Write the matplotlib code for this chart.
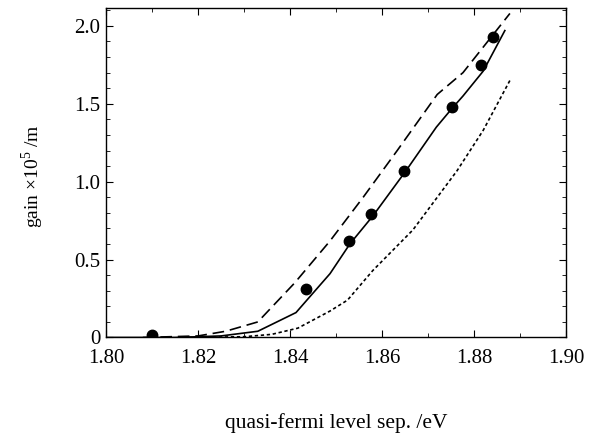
import matplotlib
matplotlib.use("Agg")
import matplotlib.pyplot as plt
from matplotlib.ticker import MultipleLocator, FixedFormatter, FixedLocator

plt.rcParams['font.family'] = ['Liberation Serif', 'DejaVu Serif']
plt.rcParams['mathtext.fontset'] = 'custom'
plt.rcParams['mathtext.rm'] = 'Liberation Serif'

# measured gain (dots)
meas_x = [1.8099, 1.8434, 1.8528, 1.8576, 1.8648, 1.8752, 1.8815, 1.8842]
meas_y = [0.013, 0.31, 0.62, 0.79, 1.07, 1.48, 1.75, 1.93]

# calculated curve, solid
solid_x = [1.800, 1.815, 1.825, 1.833, 1.8413, 1.8487, 1.853, 1.858, 1.8652, 1.8718, 1.8752, 1.8776, 1.882, 1.8867]
solid_y = [0.0, 0.0, 0.01, 0.04, 0.16, 0.41, 0.60, 0.78, 1.07, 1.35, 1.47, 1.55, 1.71, 1.97]

# upper curve, dashed
dash_x = [1.808, 1.820, 1.826, 1.833, 1.841, 1.8487, 1.8559, 1.8633, 1.872, 1.8776, 1.8878]
dash_y = [0.0, 0.01, 0.04, 0.10, 0.35, 0.62, 0.90, 1.20, 1.56, 1.70, 2.08]

# lower curve, dotted
dot_x = [1.818, 1.830, 1.836, 1.8417, 1.8487, 1.8525, 1.858, 1.8667, 1.8763, 1.882, 1.8878]
dot_y = [0.0, 0.005, 0.02, 0.06, 0.17, 0.24, 0.43, 0.69, 1.07, 1.33, 1.65]

fig = plt.figure(figsize=(5.94, 4.37), dpi=100)
ax = fig.add_axes([0.1785, 0.2277, 0.7744, 0.754])

ax.plot(dash_x, dash_y, color='black', lw=1.2, dashes=(7, 3.5))
ax.plot(dot_x, dot_y, color='black', lw=1.2, dashes=(2, 1.6))
ax.plot(solid_x, solid_y, color='black', lw=1.2)
ax.plot(meas_x, meas_y, 'o', color='black', markersize=7.5)

ax.set_xlim(1.80, 1.90)
ax.set_ylim(0, 2.115)

ax.xaxis.set_major_locator(MultipleLocator(0.02))
ax.xaxis.set_minor_locator(MultipleLocator(0.01))
ax.xaxis.set_major_formatter(plt.FormatStrFormatter('%.2f'))
ax.yaxis.set_major_locator(FixedLocator([0, 0.5, 1.0, 1.5, 2.0]))
ax.yaxis.set_major_formatter(FixedFormatter(['0', '0.5', '1.0', '1.5', '2.0']))
ax.yaxis.set_minor_locator(MultipleLocator(0.1))

ax.tick_params(which='both', direction='in', top=True, right=True, labelsize=15)
ax.tick_params(which='major', length=5, width=0.8)
ax.tick_params(which='minor', length=3, width=0.6)
ax.tick_params(axis='x', pad=8)
ax.tick_params(axis='y', pad=4)

for s in ax.spines.values():
    s.set_linewidth(1.0)

ax.set_xlabel('quasi-fermi level sep. /eV', fontsize=15.5, va='baseline')
ax.xaxis.set_label_coords(0.5, -0.2747)
ax.set_ylabel(r'gain $\times$10$^{5}$ /m', fontsize=14, va='center')
ax.yaxis.set_label_coords(-0.159, 0.49)

fig.savefig('out.png', dpi=100)
